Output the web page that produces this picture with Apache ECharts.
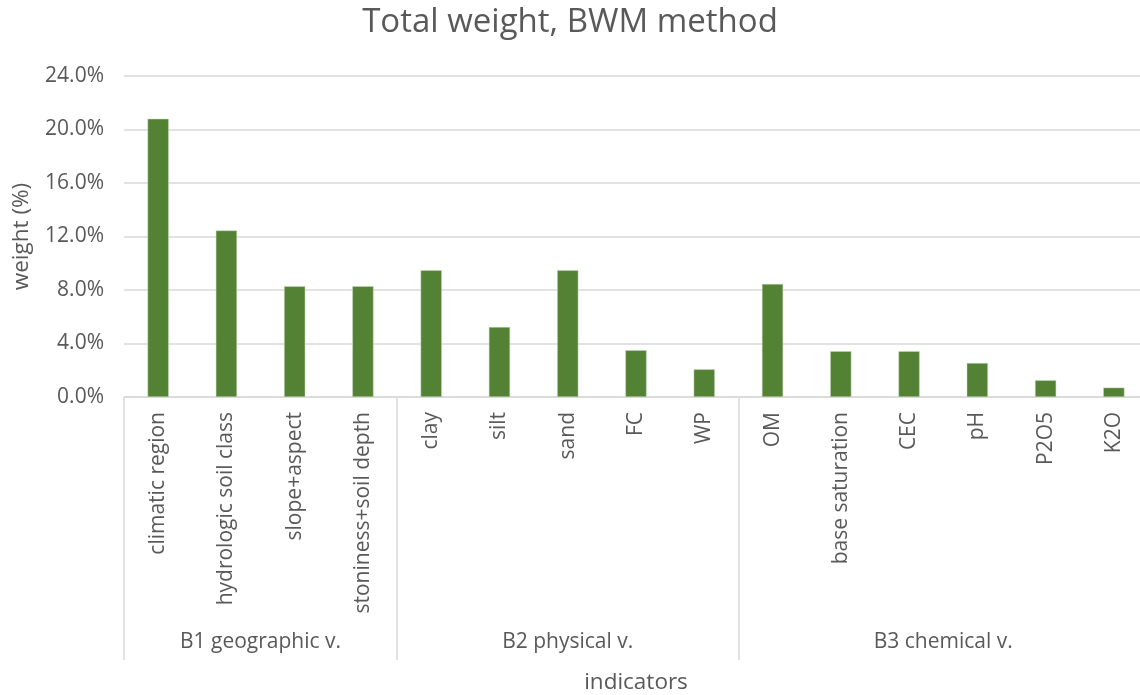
<!DOCTYPE html>
<html>
<head>
<meta charset="utf-8">
<script src="https://cdn.jsdelivr.net/npm/echarts@6/dist/echarts.min.js"></script>
<style>
html,body{margin:0;padding:0;background:#fff;}
#chart{width:1140px;height:695px;}
</style>
</head>
<body>
<div id="chart"></div>
<script>
var categories = ['climatic region','hydrologic soil class','slope+aspect','stoniness+soil depth','clay','silt','sand','FC','WP','OM','base saturation','CEC','pH','P2O5','K2O'];
var weights = [20.8, 12.45, 8.28, 8.28, 9.47, 5.23, 9.47, 3.49, 2.07, 8.45, 3.42, 3.42, 2.54, 1.25, 0.70];
var groupNames = ['B1 geographic v.', 'B2 physical v.', 'B3 chemical v.'];
var groupSizes = [4, 5, 6];
var yTicks = [0, 4, 8, 12, 16, 20, 24];

// Build half-step axis for group labels and separators
var halfCount = 2 * categories.length;
var groupAxisData = [];
var groupLabelAt = {};
var groupTickAt = {0: true};
var start = 0;
groupSizes.forEach(function (n, i) {
  groupLabelAt[start + n] = groupNames[i];  // center in half-units
  start += 2 * n;
  groupTickAt[start] = true;
});
for (var k = 0; k <= halfCount; k++) groupAxisData.push('h' + k);

var FONT = 'Open Sans';
var TXT = '#595959';
var GRID = '#d9d9d9';

var chart = echarts.init(document.getElementById('chart'));
chart.setOption({
  animation: false,
  textStyle: {fontFamily: FONT},
  title: {
    text: 'Total weight, BWM method',
    left: 'center',
    top: 1,
    textStyle: {fontFamily: FONT, fontSize: 33, fontWeight: 'normal', color: TXT}
  },
  grid: {left: 124, right: -8, top: 76, bottom: 298, containLabel: false, outerBoundsMode: 'none'},
  xAxis: [{
    type: 'category',
    data: categories,
    boundaryGap: true,
    axisLine: {show: true, lineStyle: {color: GRID, width: 1.5}},
    axisTick: {show: false},
    axisLabel: {rotate: 90, margin: 15, fontSize: 21, color: TXT, fontFamily: FONT, interval: 0},
    name: 'indicators',
    nameLocation: 'middle',
    nameGap: 274,
    nameMoveOverlap: false,
    nameTextStyle: {fontSize: 22.5, color: TXT, fontFamily: FONT}
  }, {
    type: 'category',
    data: groupAxisData,
    boundaryGap: false,
    position: 'bottom',
    axisLine: {show: false},
    axisTick: {
      show: true,
      length: 263,
      inside: false,
      interval: function (idx) { return !!groupTickAt[idx]; },
      lineStyle: {color: GRID, width: 1.5}
    },
    axisLabel: {
      show: true,
      interval: function (idx) { return groupLabelAt[idx] !== undefined; },
      formatter: function (v, idx) { return groupLabelAt[idx] || ''; },
      margin: 235,
      fontSize: 21,
      color: TXT,
      fontFamily: FONT
    }
  }],
  yAxis: {
    type: 'value',
    min: yTicks[0],
    max: yTicks[yTicks.length - 1],
    interval: yTicks[1] - yTicks[0],
    axisLine: {show: false},
    axisTick: {show: false},
    splitLine: {lineStyle: {color: GRID, width: 1.5}},
    axisLabel: {formatter: function (v) { return v.toFixed(1) + '%'; }, fontSize: 21, color: TXT, fontFamily: FONT, margin: 20},
    name: 'weight (%)',
    nameLocation: 'middle',
    nameGap: 91,
    nameRotate: 90,
    nameMoveOverlap: false,
    nameTextStyle: {fontSize: 22.5, color: TXT, fontFamily: FONT}
  },
  series: [{
    type: 'bar',
    data: weights,
    xAxisIndex: 0,
    barWidth: '31%',
    itemStyle: {color: '#548235', borderColor: '#c5d9b8', borderWidth: 0.5}
  }]
});
</script>
</body>
</html>
